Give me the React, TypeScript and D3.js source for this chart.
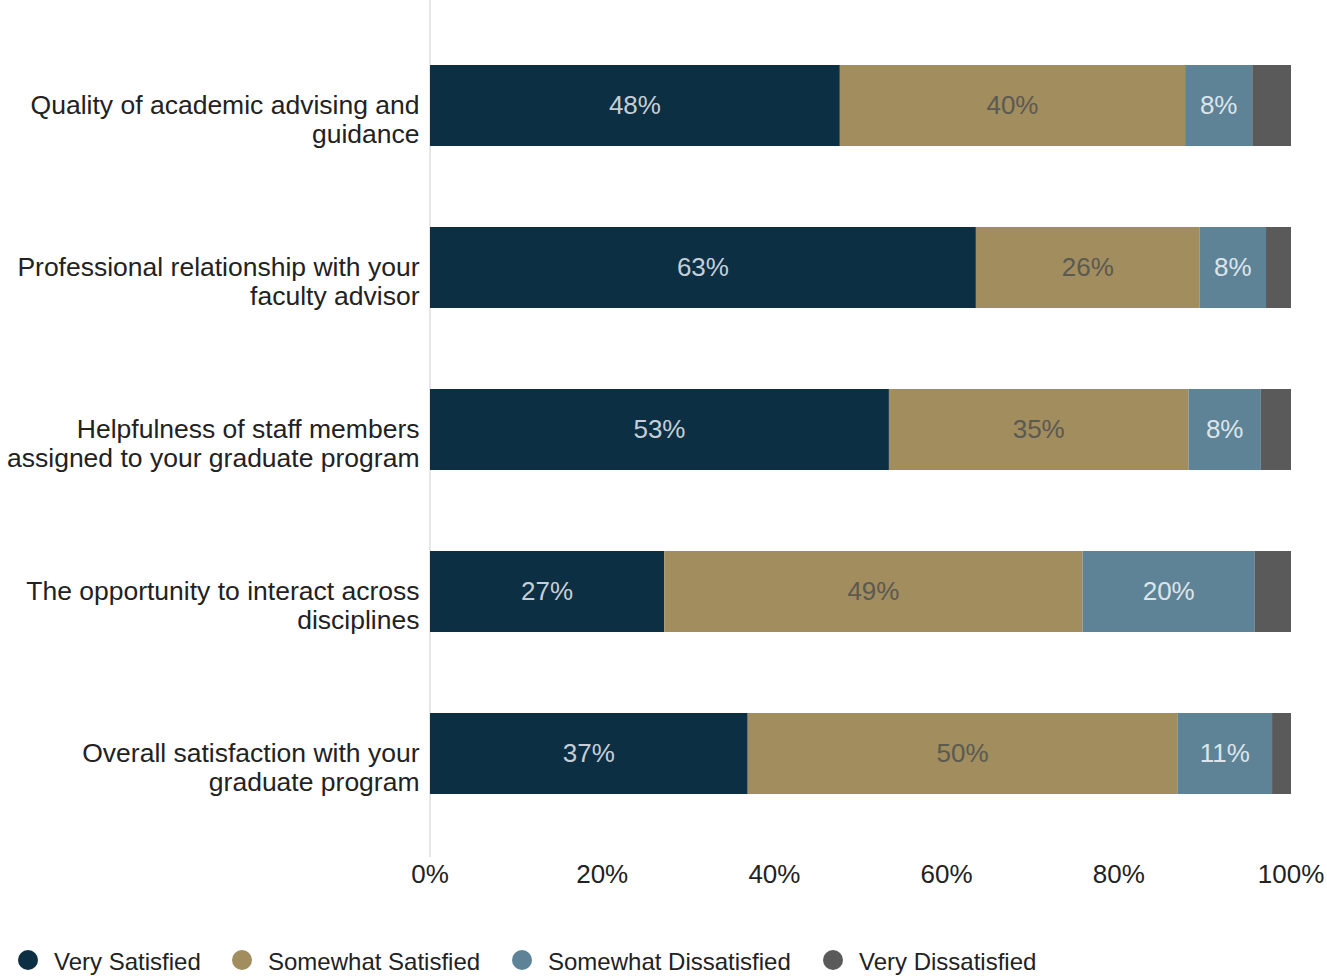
import React from "react";
import * as d3 from "d3";

const categories = [
  "Quality of academic advising and guidance",
  "Professional relationship with your faculty advisor",
  "Helpfulness of staff members assigned to your graduate program",
  "The opportunity to interact across disciplines",
  "Overall satisfaction with your graduate program",
];
const seriesNames = ["Very Satisfied", "Somewhat Satisfied", "Somewhat Dissatisfied", "Very Dissatisfied"];
const verySatisfied = [47.6, 63.4, 53.3, 27.2, 36.9];
const somewhatSatisfied = [40.1, 26.0, 34.8, 48.6, 49.9];
const somewhatDissatisfied = [7.8, 7.7, 8.4, 20.0, 11.0];
const veryDissatisfied = [4.5, 2.9, 3.5, 4.2, 2.2];
const tickValues = [0, 20, 40, 60, 80, 100];

const colors = ["#0c2f44", "#a28d5f", "#5e8397", "#5a5a5a"];
const labelColors = ["#c5ced6", "#5a5a50", "#dde4ea", "#dddddd"];
const FONT = "'Liberation Sans', Arial, Helvetica, sans-serif";

function wrapText(text: string, maxWidth: number, font: string): string[] {
  const canvas = document.createElement("canvas");
  const ctx = canvas.getContext("2d");
  if (!ctx) return [text];
  ctx.font = font;
  const words = text.split(" ");
  const lines: string[] = [];
  let cur = "";
  for (const w of words) {
    const test = cur ? cur + " " + w : w;
    if (ctx.measureText(test).width > maxWidth && cur) {
      lines.push(cur);
      cur = w;
    } else cur = test;
  }
  if (cur) lines.push(cur);
  return lines;
}

export default function App() {
  const W = 1327;
  const H = 976;
  const x0 = 430;
  const x1 = 1291;
  const x = d3.scaleLinear().domain([0, 100]).range([x0, x1]);
  const y = d3
    .scaleBand<string>()
    .domain(categories)
    .range([24.5, 834.5])
    .paddingInner(0.5)
    .paddingOuter(0.25);

  const rows = categories.map((c, i) => ({
    cat: c,
    values: [verySatisfied[i], somewhatSatisfied[i], somewhatDissatisfied[i], veryDissatisfied[i]],
  }));
  const stack = d3.stack<any>().keys(["0", "1", "2", "3"]).value((d: any, k: string) => d.values[+k]);
  const stacked = stack(rows as any);

  const legendX = [28, 242, 522, 833];

  return (
    <svg
      width={W}
      height={H}
      style={{ position: "absolute", left: 0, top: 0, background: "#fff", fontFamily: FONT }}
    >
      <line x1={x0} x2={x0} y1={0} y2={857} stroke="#e6e6e6" strokeWidth={2} />
      {stacked.map((s, si) => (
        <g key={si}>
          {s.map((d, ci) => {
            const cat = categories[ci];
            const bx = x(d[0]);
            const bw = x(d[1]) - x(d[0]);
            const by = y(cat)!;
            const bh = y.bandwidth();
            const v = rows[ci].values[si];
            return (
              <g key={ci}>
                <rect x={bx} y={by} width={bw} height={bh} fill={colors[si]} />
                {bw > 45 && (
                  <text
                    x={bx + bw / 2}
                    y={by + bh / 2 - 1}
                    dy="0.35em"
                    textAnchor="middle"
                    fontSize={26}
                    fill={labelColors[si]}
                  >
                    {Math.round(v) + "%"}
                  </text>
                )}
              </g>
            );
          })}
        </g>
      ))}
      {categories.map((c) => {
        const lines = wrapText(c, 422, `26.5px ${FONT}`);
        const cy = y(c)! + y.bandwidth() / 2 - 1;
        return (
          <text key={c} x={419.5} y={cy} textAnchor="end" fontSize={26.5} fill="#222">
            {lines.map((l, li) => (
              <tspan key={li} x={419.5} y={cy + li * 29} dy="0.35em">
                {l}
              </tspan>
            ))}
          </text>
        );
      })}
      {tickValues.map((t) => (
        <text key={t} x={x(t)} y={883} textAnchor="middle" fontSize={26} fill="#222">
          {t + "%"}
        </text>
      ))}
      {seriesNames.map((n, i) => (
        <g key={n}>
          <circle cx={legendX[i]} cy={960} r={10} fill={colors[i]} />
          <text x={legendX[i] + 26} y={970} fontSize={24} fill="#222">
            {n}
          </text>
        </g>
      ))}
    </svg>
  );
}
